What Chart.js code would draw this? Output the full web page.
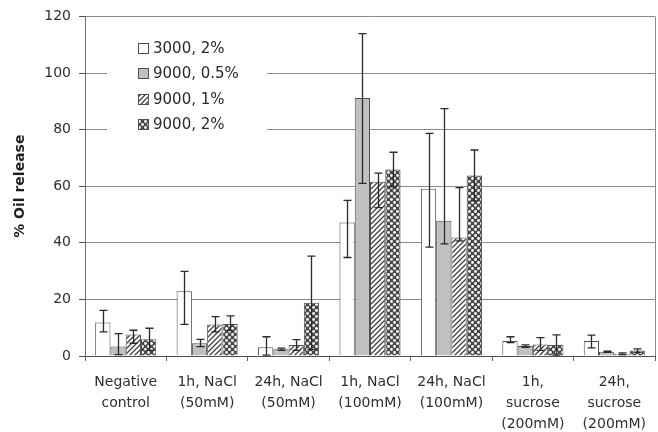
<!DOCTYPE html>
<html><head><meta charset="utf-8">
<script src="https://cdn.jsdelivr.net/npm/chart.js@4"></script>
<style>html,body{margin:0;padding:0;background:#fff}canvas{display:block}</style>
</head><body>
<canvas id="c" width="658" height="432"></canvas>
<script>
// ---- data ----
const categories = [
  ['Negative','control'],
  ['1h, NaCl','(50mM)'],
  ['24h, NaCl','(50mM)'],
  ['1h, NaCl','(100mM)'],
  ['24h, NaCl','(100mM)'],
  ['1h,','sucrose','(200mM)'],
  ['24h,','sucrose','(200mM)']
];
const seriesNames = ['3000, 2%', '9000, 0.5%', '9000, 1%', '9000, 2%'];

const s3000_2   = [11.8, 22.9, 3.1, 47.2, 59.1, 5.3, 5.3];
const s3000_2Lo = [8.5, 11.2, 0.3, 34.8, 38.5, 4.7, 2.9];
const s3000_2Hi = [16.1, 29.9, 6.8, 55.0, 78.7, 6.8, 7.4];

const s9000_05   = [3.4, 4.5, 2.4, 91.2, 47.8, 3.5, 1.5];
const s9000_05Lo = [0.5, 3.3, 2.0, 61.0, 39.6, 3.1, 1.3];
const s9000_05Hi = [7.9, 5.9, 2.8, 113.9, 87.4, 3.9, 1.7];

const s9000_1   = [7.6, 11.1, 3.9, 61.6, 41.9, 4.1, 0.8];
const s9000_1Lo = [4.5, 8.5, 2.0, 52.4, 40.7, 2.0, 0.5];
const s9000_1Hi = [9.1, 13.9, 5.8, 64.6, 59.5, 6.5, 1.1];

const s9000_2   = [5.9, 11.3, 18.8, 65.9, 63.8, 3.9, 1.9];
const s9000_2Lo = [2.0, 9.0, 2.3, 59.8, 54.8, 0.3, 1.3];
const s9000_2Hi = [9.8, 14.2, 35.3, 72.0, 72.8, 7.5, 2.5];

const yMin = 0, yMax = 120, yStep = 20;
const yTitle = '% Oil release';

// ---- patterns ----
function hatchPattern() {
  const t = document.createElement('canvas'); t.width = 5; t.height = 5;
  const g = t.getContext('2d');
  g.fillStyle = '#fff'; g.fillRect(0,0,5,5);
  g.strokeStyle = '#404040'; g.lineWidth = 1.3;
  g.beginPath();
  g.moveTo(-1,1); g.lineTo(1,-1);
  g.moveTo(0,5); g.lineTo(5,0);
  g.moveTo(4,6); g.lineTo(6,4);
  g.stroke();
  return g.createPattern(t, 'repeat');
}
function dotPattern() {
  const t = document.createElement('canvas'); t.width = 6; t.height = 6;
  const g = t.getContext('2d');
  g.fillStyle = '#484848'; g.fillRect(0,0,6,6);
  g.fillStyle = '#ffffff';
  [[1.5,1.5],[4.5,4.5]].forEach(p => { g.beginPath(); g.arc(p[0],p[1],1.4,0,Math.PI*2); g.fill(); });
  return g.createPattern(t, 'repeat');
}
const fills = ['#ffffff', '#c0c0c0', hatchPattern(), dotPattern()];

const values = [s3000_2, s9000_05, s9000_1, s9000_2];
const lows = [s3000_2Lo, s9000_05Lo, s9000_1Lo, s9000_2Lo];
const highs = [s3000_2Hi, s9000_05Hi, s9000_1Hi, s9000_2Hi];

const datasets = seriesNames.map((n, i) => ({
  label: n,
  data: values[i],
  errLow: lows[i],
  errHigh: highs[i],
  backgroundColor: fills[i],
  borderColor: '#505050',
  borderWidth: 1,
  categoryPercentage: 0.75,
  barPercentage: 1.0
}));

const errorBars = {
  id: 'errorBars',
  afterDatasetsDraw(chart) {
    const ctx = chart.ctx, y = chart.scales.y;
    ctx.save();
    ctx.strokeStyle = '#2a2a2a'; ctx.lineWidth = 1.3;
    chart.data.datasets.forEach((ds, di) => {
      const meta = chart.getDatasetMeta(di);
      meta.data.forEach((bar, j) => {
        const x = Math.round(bar.x) + 0.5;
        const yl = y.getPixelForValue(ds.errLow[j]);
        const yh = y.getPixelForValue(ds.errHigh[j]);
        ctx.beginPath();
        ctx.moveTo(x, yl); ctx.lineTo(x, yh);
        ctx.moveTo(x-4, yl); ctx.lineTo(x+4, yl);
        ctx.moveTo(x-4, yh); ctx.lineTo(x+4, yh);
        ctx.stroke();
      });
    });
    ctx.restore();
  }
};

const frameAndLegend = {
  id: 'frameAndLegend',
  beforeDatasetsDraw(chart) {
    const ctx = chart.ctx, a = chart.chartArea;
    ctx.save();
    // right border
    ctx.strokeStyle = '#8a8a8a'; ctx.lineWidth = 1;
    ctx.beginPath(); ctx.moveTo(Math.round(a.right)+0.5, a.top); ctx.lineTo(Math.round(a.right)+0.5, a.bottom); ctx.stroke();
    // legend background
    ctx.fillStyle = '#fff';
    ctx.fillRect(107, 30, 160, 108);
    ctx.font = '15px "DejaVu Sans"';
    ctx.textBaseline = 'middle';
    ctx.textAlign = 'left';
    chart.data.datasets.forEach((ds, i) => {
      const cy = 48 + i * 25.5;
      ctx.fillStyle = ds.backgroundColor;
      ctx.fillRect(138, Math.round(cy - 5.5), 11, 11);
      ctx.strokeStyle = '#505050';
      ctx.strokeRect(138.5, Math.round(cy - 5.5) + 0.5, 10, 10);
      ctx.fillStyle = '#2a2a2a';
      ctx.fillText(ds.label, 153, cy + 1);
    });
    ctx.restore();
  }
};

Chart.defaults.font.family = '"DejaVu Sans", sans-serif';
Chart.defaults.font.size = 14;
Chart.defaults.color = '#2f2f2f';

new Chart(document.getElementById('c'), {
  type: 'bar',
  data: { labels: categories, datasets },
  options: {
    responsive: false,
    devicePixelRatio: 1,
    animation: false,
    layout: { padding: { top: 16, right: 3, left: 0, bottom: 0 } },
    plugins: { legend: { display: false }, tooltip: { enabled: false } },
    scales: {
      x: {
        grid: { display: true, drawOnChartArea: false, color: '#606060', tickLength: 5, offset: true },
        border: { color: '#505050', width: 1 },
        ticks: { padding: 11, font: { size: 14, lineHeight: 1.5 }, maxRotation: 0, autoSkip: false },
        afterFit(s) { s.height = 76; }
      },
      y: {
        min: yMin, max: yMax,
        ticks: { stepSize: yStep, padding: 8, font: { size: 14 } },
        grid: { color: '#8a8a8a', tickColor: '#505050', tickLength: 6 },
        border: { color: '#707070', width: 1 },
        title: { display: true, text: yTitle, font: { size: 14, weight: 'bold', lineHeight: 1.2 }, padding: { top: 12, bottom: 0 }, color: '#1e1e1e' },
        afterFit(s) { s.width = 85; }
      }
    }
  },
  plugins: [frameAndLegend, errorBars]
});
</script>
</body></html>
